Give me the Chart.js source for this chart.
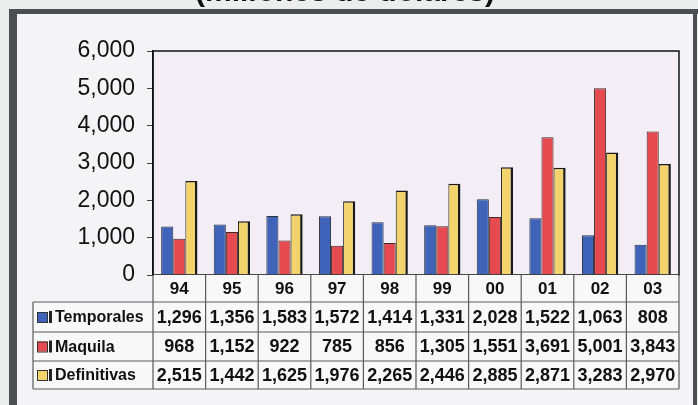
<!DOCTYPE html>
<html>
<head>
<meta charset="utf-8">
<script src="https://cdn.jsdelivr.net/npm/chart.js@4"></script>
<style>
html,body{margin:0;padding:0;background:#eceeee;}
canvas{display:block;}
</style>
</head>
<body>
<canvas id="c" width="698" height="405"></canvas>
<script>
const categories = ["94","95","96","97","98","99","00","01","02","03"];
const temporales = [1296,1356,1583,1572,1414,1331,2028,1522,1063,808];
const maquila = [968,1152,922,785,856,1305,1551,3691,5001,3843];
const definitivas = [2515,1442,1625,1976,2265,2446,2885,2871,3283,2970];
const seriesNames = ["Temporales","Maquila","Definitivas"];
const yTicks = [0,1000,2000,3000,4000,5000,6000];
const titleText = "(millones de dólares)";

const colors = ["#3f63b8","#e54a50","#f3d46c"];
const fmt = v => v.toLocaleString('en-US');

const bgPlugin = {
  id: 'bg',
  beforeDraw(chart) {
    const ctx = chart.ctx, ca = chart.chartArea;
    ctx.save();
    ctx.fillStyle = '#eceeee';
    ctx.fillRect(0,0,chart.width,chart.height);
    // frame
    ctx.fillStyle = '#4b4f52';
    ctx.fillRect(9,9,689,5);
    ctx.fillRect(9,9,8,396);
    ctx.fillRect(693,9,4,396);
    ctx.fillStyle = '#f4f4f6';
    ctx.fillRect(17,14,676,391);
    // title (cut off at top)
    ctx.fillStyle = '#111';
    ctx.font = 'bold 30px "Liberation Sans", Arial, sans-serif';
    ctx.textAlign = 'center';
    ctx.textBaseline = 'alphabetic';
    ctx.fillText(titleText, 345, 1);
    // plot area
    ctx.fillStyle = '#f3eef6';
    ctx.fillRect(ca.left, ca.top, ca.right-ca.left, ca.bottom-ca.top);
    ctx.restore();
  },
  afterDatasetsDraw(chart) {
    const ctx = chart.ctx, ca = chart.chartArea;
    ctx.save();
    ctx.strokeStyle = '#111';
    ctx.lineWidth = 1.5;
    ctx.strokeRect(ca.left, ca.top, ca.right-ca.left, ca.bottom-ca.top);
    ctx.restore();
  }
};

const tablePlugin = {
  id: 'table',
  afterDraw(chart) {
    const ctx = chart.ctx, ca = chart.chartArea, xs = chart.scales.x;
    const half = (xs.getPixelForValue(1) - xs.getPixelForValue(0)) / 2;
    const rows = [ca.bottom, 302, 332, 361, 389];
    const legendLeft = 33;
    const rowData = [temporales, maquila, definitivas];
    ctx.save();
    // backgrounds
    ctx.fillStyle = '#f8f8f9';
    ctx.fillRect(ca.left, rows[0], ca.right-ca.left, rows[4]-rows[0]);
    ctx.fillRect(legendLeft, rows[1], ca.left-legendLeft, rows[4]-rows[1]);
    // grid
    ctx.strokeStyle = '#5a5a5a';
    ctx.lineWidth = 1.2;
    ctx.beginPath();
    for (let r = 1; r < rows.length; r++) {
      ctx.moveTo(legendLeft, rows[r]); ctx.lineTo(ca.right, rows[r]);
    }
    ctx.moveTo(legendLeft, rows[1]); ctx.lineTo(legendLeft, rows[4]);
    ctx.moveTo(ca.left, rows[0]); ctx.lineTo(ca.left, rows[4]);
    categories.forEach((c,i) => {
      const xr = xs.getPixelForValue(i) + half;
      ctx.moveTo(xr, rows[0]); ctx.lineTo(xr, rows[4]);
    });
    ctx.stroke();
    // category labels
    ctx.fillStyle = '#111';
    ctx.textAlign = 'center';
    ctx.textBaseline = 'middle';
    ctx.font = 'bold 17px "Liberation Sans", Arial, sans-serif';
    categories.forEach((c,i) => {
      ctx.fillText(c, xs.getPixelForValue(i), (rows[0]+rows[1])/2 + 1);
    });
    // values
    ctx.font = 'bold 18px "Liberation Sans", Arial, sans-serif';
    rowData.forEach((arr, r) => {
      const yc = (rows[r+1]+rows[r+2])/2 + 1;
      arr.forEach((v,i) => {
        ctx.fillText(fmt(v), xs.getPixelForValue(i), yc);
      });
    });
    // legend column
    seriesNames.forEach((n, r) => {
      const yc = (rows[r+1]+rows[r+2])/2;
      ctx.fillStyle = colors[r];
      ctx.fillRect(37, yc-5, 10, 10);
      ctx.strokeStyle = '#333';
      ctx.lineWidth = 1;
      ctx.strokeRect(37.5, yc-4.5, 10, 10);
      ctx.fillStyle = '#222';
      ctx.fillRect(49, yc-6, 3, 12);
      ctx.fillStyle = '#111';
      ctx.textAlign = 'left';
      ctx.font = 'bold 16px "Liberation Sans", Arial, sans-serif';
      ctx.fillText(n, 55, yc + 1);
    });
    ctx.restore();
  }
};

new Chart(document.getElementById('c'), {
  type: 'bar',
  data: {
    labels: categories,
    datasets: [
      { label: seriesNames[0], data: temporales, backgroundColor: colors[0], borderColor: '#2c3140', borderWidth: 1 },
      { label: seriesNames[1], data: maquila, backgroundColor: colors[1], borderColor: '#3a2a2a', borderWidth: 1 },
      { label: seriesNames[2], data: definitivas, backgroundColor: colors[2], borderColor: '#1a1a1a', borderWidth: {top:1.5,left:1,right:2.5,bottom:0} }
    ]
  },
  options: {
    responsive: false,
    animation: false,
    layout: { padding: { left: 0, right: 19, top: 51, bottom: 130 } },
    plugins: { legend: { display: false }, tooltip: { enabled: false } },
    datasets: { bar: { categoryPercentage: 0.69, barPercentage: 1.0 } },
    scales: {
      x: {
        grid: { display: false },
        border: { display: false },
        ticks: { display: false },
        afterFit: s => { s.height = 0; }
      },
      y: {
        min: 0, max: 6000,
        afterBuildTicks: s => { s.ticks = yTicks.map(v => ({ value: v })); },
        afterFit: s => { s.width = 153; },
        grid: { drawOnChartArea: false, tickLength: 6, color: '#444', lineWidth: 1 },
        border: { display: true, color: '#111', width: 1.5 },
        ticks: {
          padding: 12,
          color: '#111',
          font: { family: '"Liberation Sans", Arial, sans-serif', size: 23 },
          callback: v => fmt(v)
        }
      }
    }
  },
  plugins: [bgPlugin, tablePlugin]
});
</script>
</body>
</html>
